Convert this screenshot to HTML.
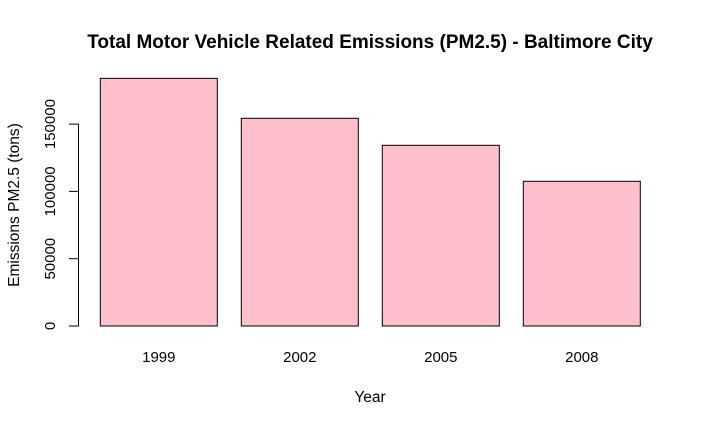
<!DOCTYPE html>
<html><head><meta charset="utf-8"><style>
body{margin:0;background:#fff;}
svg text{font-family:"Liberation Sans",Arial,sans-serif;}
</style></head><body>
<svg id="chart" width="703" height="427" xmlns="http://www.w3.org/2000/svg">
<text x="370" y="48" text-anchor="middle" font-size="19" font-weight="bold">Total Motor Vehicle Related Emissions (PM2.5) - Baltimore City</text>
<text x="370" y="402" text-anchor="middle" font-size="15.5">Year</text>
<text transform="translate(19,205) rotate(-90)" text-anchor="middle" font-size="15.5">Emissions PM2.5 (tons)</text>
<g id="bars"></g><g id="yaxis"></g><g id="xlabels"></g>
</svg>
<script>
const categories=["1999","2002","2005","2008"];
const values=[184000,154300,134250,107500];
const yTicks=[0,50000,100000,150000];
const ns="http://www.w3.org/2000/svg";
function y(v){return 326-v*67.3/50000;}
function xLeft(i){return 100.3+i*141;}
const bw=117;
const bars=document.getElementById('bars');
values.forEach((v,i)=>{
 const r=document.createElementNS(ns,'rect');
 
 
 r.setAttribute('x',xLeft(i));r.setAttribute('y',y(v));
 r.setAttribute('width',bw);r.setAttribute('height',326-y(v));
 r.setAttribute('fill','#FFC0CB');r.setAttribute('stroke','#000');r.setAttribute('stroke-width','1');
 bars.appendChild(r);
 const t=document.createElementNS(ns,'text');
 
 
 t.setAttribute('x',xLeft(i)+bw/2);t.setAttribute('y',362);
 t.setAttribute('text-anchor','middle');t.setAttribute('font-size','15');
 t.textContent=categories[i];
 document.getElementById('xlabels').appendChild(t);
});
const ya=document.getElementById('yaxis');
const l=document.createElementNS(ns,'line');


l.setAttribute('x1',78.5);l.setAttribute('x2',78.5);
l.setAttribute('y1',y(yTicks[0]));l.setAttribute('y2',y(yTicks[yTicks.length-1]));
l.setAttribute('stroke','#000');
ya.appendChild(l);
yTicks.forEach(v=>{
 const tk=document.createElementNS(ns,'line');
 
 
 tk.setAttribute('x1',69);tk.setAttribute('x2',78.5);
 tk.setAttribute('y1',y(v));tk.setAttribute('y2',y(v));
 tk.setAttribute('stroke','#000');
 ya.appendChild(tk);
 const t=document.createElementNS(ns,'text');
 
 
 t.setAttribute('transform','translate(55,'+y(v)+') rotate(-90)');
 t.setAttribute('text-anchor','middle');t.setAttribute('font-size','15');
 t.textContent=v;
 ya.appendChild(t);
});
</script>
</body></html>
